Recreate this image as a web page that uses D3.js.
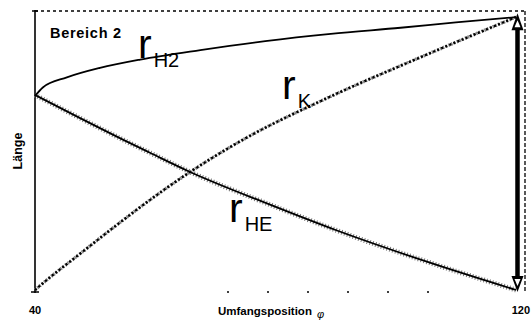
<!DOCTYPE html>
<html><head><meta charset="utf-8">
<script src="https://cdn.jsdelivr.net/npm/d3@7"></script>
<style>body{margin:0;background:#fff}svg{display:block}text{font-family:"Liberation Sans",Arial,sans-serif}</style>
</head><body><svg id="c" width="532" height="321"></svg>
<script>
// Data (x = Umfangsposition φ, y = Länge in relative units)
const xTicks = [40, 120];
const phiH2 = [40, 41.3, 45.3, 50.8, 57.5, 67.5, 78.3, 89.2, 100.8, 110, 120];
const rH2   = [69.5, 72.6, 76.2, 79.6, 82.6, 86.0, 89.2, 91.8, 94.0, 95.9, 97.8];
const phiK  = [40, 41.3, 47.5, 54.2, 59.2, 65.8, 74.7, 88.3, 104.2, 120];
const rK    = [0, 2.4, 13.0, 24.3, 32.4, 42.3, 54.0, 68.5, 83.5, 97.8];
const phiHE = [40, 47.5, 54.7, 59.2, 65.8, 79.2, 90, 105.8, 120];
const rHE   = [69.9, 61.6, 53.8, 49.1, 42.3, 30.5, 21.5, 9.7, 0];
const yMax = 100;

const svg = d3.select("#c");
const x = d3.scaleLinear().domain([40, 120]).range([35, 516]);
const y = d3.scaleLinear().domain([0, yMax]).range([290, 11]);
const line = d3.line().x(d => x(d[0])).y(d => y(d[1])).curve(d3.curveMonotoneX);
const zip = (a, b) => a.map((v, i) => [v, b[i]]);

// frame: top dashed line, right dashed line
svg.append("line").attr("x1", x(40)).attr("x2", x(120) + 9).attr("y1", y(yMax)).attr("y2", y(yMax))
  .attr("stroke", "#000").attr("stroke-width", 1.6).attr("stroke-dasharray", "3,3");
svg.append("line").attr("x1", x(120) + 9).attr("x2", x(120) + 9).attr("y1", y(yMax)).attr("y2", y(0) + 3)
  .attr("stroke", "#000").attr("stroke-width", 1.3).attr("stroke-dasharray", "4,2");
// sparse bottom axis remnants
svg.append("line").attr("x1", x(40) + 192).attr("x2", x(120) - 60).attr("y1", y(0) + 2).attr("y2", y(0) + 2)
  .attr("stroke", "#000").attr("stroke-width", 1.3).attr("stroke-dasharray", "2,38");

// y axis
svg.append("line").attr("x1", x(40)).attr("x2", x(40)).attr("y1", y(yMax) - 1).attr("y2", y(0) + 3)
  .attr("stroke", "#000").attr("stroke-width", 1.6);
svg.append("line").attr("x1", x(40) - 4).attr("x2", x(40) + 4).attr("y1", y(0) + 2).attr("y2", y(0) + 2)
  .attr("stroke", "#000").attr("stroke-width", 1.5);
svg.append("line").attr("x1", x(40) - 3).attr("x2", x(40) + 3).attr("y1", y(yMax)).attr("y2", y(yMax))
  .attr("stroke", "#000").attr("stroke-width", 1.5);

// rK dotted
svg.append("path").attr("d", line(zip(phiK, rK))).attr("fill", "none")
  .attr("stroke", "#888").attr("stroke-width", 3.4).attr("stroke-dasharray", "1.5,1.5");
svg.append("path").attr("d", line(zip(phiK, rK))).attr("fill", "none")
  .attr("stroke", "#000").attr("stroke-width", 2.4).attr("stroke-dasharray", "2.2,2.2");

// rHE with hatch
svg.append("path").attr("d", line(zip(phiHE, rHE))).attr("fill", "none")
  .attr("stroke", "#777").attr("stroke-width", 5).attr("stroke-dasharray", "1,2");
svg.append("path").attr("d", line(zip(phiHE, rHE))).attr("fill", "none")
  .attr("stroke", "#000").attr("stroke-width", 1.8);

// rH2 solid
svg.append("path").attr("d", line(zip(phiH2, rH2))).attr("fill", "none")
  .attr("stroke", "#000").attr("stroke-width", 1.8);

// double arrow at φ = 120
const ax = x(120) + 1.5;
const yTop = y(rH2[rH2.length - 1]) - 4, yBot = y(0) + 2;
svg.append("line").attr("x1", ax).attr("x2", ax).attr("y1", yTop + 14).attr("y2", yBot - 14)
  .attr("stroke", "#000").attr("stroke-width", 4.5);
svg.append("path").attr("d", `M${ax},${yTop} L${ax - 6},${yTop + 17} L${ax + 6},${yTop + 17} Z`).attr("fill", "#000");
svg.append("path").attr("d", `M${ax},${yTop + 7} L${ax - 3},${yTop + 14} L${ax + 3},${yTop + 14} Z`).attr("fill", "#fff");
svg.append("path").attr("d", `M${ax},${yBot} L${ax - 6},${yBot - 16} L${ax + 6},${yBot - 16} Z`).attr("fill", "#000");
svg.append("path").attr("d", `M${ax},${yBot - 6} L${ax - 3},${yBot - 13} L${ax + 3},${yBot - 13} Z`).attr("fill", "#fff");

// texts
svg.append("text").attr("x", 50).attr("y", 38).attr("font-size", 14.5).attr("font-weight", "bold")
  .attr("textLength", 71).text("Bereich 2");

function rlabel(xp, yp, sub) {
  const t = svg.append("text").attr("x", xp).attr("y", yp).attr("font-family", "'DejaVu Sans',sans-serif");
  t.append("tspan").attr("font-size", 41).text("r");
  t.append("tspan").attr("font-size", 20).attr("dy", 9).attr("dx", 2).text(sub);
}
rlabel(138, 58, "H2");
rlabel(282, 99, "K");
rlabel(229, 222, "HE");

svg.append("text").attr("transform", "translate(22,151) rotate(-90)").attr("text-anchor", "middle")
  .attr("font-size", 12.5).attr("font-weight", "bold").text("Länge");

svg.append("text").attr("x", x(xTicks[0])).attr("y", 314).attr("text-anchor", "middle")
  .attr("font-size", 11).attr("font-weight", "bold").text(xTicks[0]);
svg.append("text").attr("x", 530).attr("y", 314).attr("text-anchor", "end")
  .attr("font-size", 11).attr("font-weight", "bold").text(xTicks[1]);

const xl = svg.append("text").attr("x", 218).attr("y", 315).attr("font-size", 11.5).attr("font-weight", "bold");
xl.append("tspan").text("Umfangsposition");
xl.append("tspan").attr("dx", 5).attr("dy", 3).attr("font-weight", "normal").attr("font-style", "italic")
  .attr("font-size", 11).text("φ");
</script></body></html>
